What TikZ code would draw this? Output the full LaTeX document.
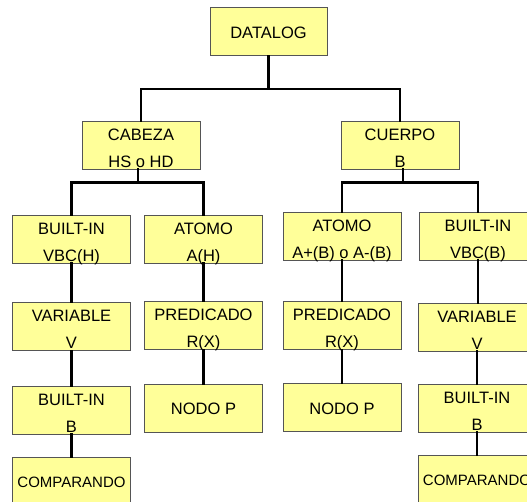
\documentclass[tikz,border=0pt]{standalone}
\usepackage{fontspec}
\setmainfont{Liberation Sans}
\usetikzlibrary{calc}
\definecolor{boxfill}{HTML}{FFFF99}
\definecolor{boxline}{HTML}{555555}
\begin{document}
\begin{tikzpicture}[x=1pt,y=1pt,
  box/.style={rectangle, fill=boxfill, draw=boxline, line width=0.8pt,
    minimum width=118pt, minimum height=48pt, inner sep=0pt, align=center,
    font=\fontsize{16.5}{27}\selectfont},
  twoline/.style={box, text height=46.5pt, text depth=1.5pt},
  oneline/.style={box, text height=31pt, text depth=17pt},
  small/.style={font=\fontsize{15}{27}\selectfont},
  link/.style={line width=2.6pt, line cap=rect}]
\useasboundingbox (0,0) rectangle (527,502);
\clip (0,0) rectangle (527,502);

% root and first level
\node[oneline, minimum width=117pt, minimum height=47pt] (dat) at (268.5,470.5) {DATALOG};
\node[twoline] (cab) at (141,357) {CABEZA\\HS o HD};
\node[twoline] (cue) at (400,357) {CUERPO\\B};

% head branch
\node[twoline] (bih) at (71.5,263) {BUILT-IN\\VBC(H)};
\node[twoline] (ath) at (203.5,263) {ATOMO\\A(H)};
\node[twoline] (varl) at (71.5,175.5) {VARIABLE\\V};
\node[twoline] (prl) at (203.5,176.5) {PREDICADO\\R(X)};
\node[twoline] (bil) at (71.5,92) {BUILT-IN\\B};
\node[oneline] (ndl) at (203.5,94) {NODO P};
\node[oneline, small] (cpl) at (71.5,21) {COMPARANDO};

% body branch
\node[twoline] (atb) at (342,266) {ATOMO\\A+(B) o A-(B)};
\node[twoline] (bib) at (478,266) {BUILT-IN\\VBC(B)};
\node[twoline] (prr) at (342,176.5) {PREDICADO\\R(X)};
\node[twoline] (varr) at (477,175) {VARIABLE\\V};
\node[oneline] (ndr) at (342,94.5) {NODO P};
\node[twoline] (bir) at (477,94) {BUILT-IN\\B};
\node[oneline, small] (cpr) at (477,23) {COMPARANDO};

% tree connectors
\coordinate (j0) at ($(dat.south)+(0,-33)$);
\draw[link] (dat.south) -- (j0) -| (cab.north);
\draw[link] (j0) -| (cue.north);

\coordinate (j1) at ($([xshift=-3pt]cab.south)+(0,-13)$);
\draw[link] ([xshift=-3pt]cab.south) -- (j1) -| (bih.north);
\draw[link] (j1) -| (ath.north);

\coordinate (j2) at ($([xshift=3pt]cue.south)+(0,-13)$);
\draw[link] ([xshift=3pt]cue.south) -- (j2) -| (atb.north);
\draw[link] (j2) -| (bib.north);

\draw[link] (bih.south) -- (varl.north);
\draw[link] (varl.south) -- (bil.north);
\draw[link] (bil.south) -- (cpl.north);
\draw[link] (ath.south) -- (prl.north);
\draw[link] (prl.south) -- (ndl.north);

\draw[link] (atb.south) -- (prr.north);
\draw[link] (prr.south) -- (ndr.north);
\draw[link] (bib.south) -- (varr.north -| bib.south);
\draw[link] (varr.south) -- (bir.north);
\draw[link] (bir.south) -- (cpr.north);
\end{tikzpicture}
\end{document}
